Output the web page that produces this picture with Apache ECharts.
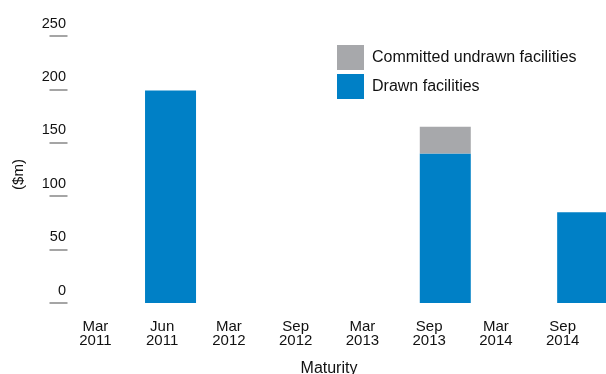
<!DOCTYPE html>
<html>
<head>
<meta charset="utf-8">
<script src="https://cdn.jsdelivr.net/npm/echarts@6/dist/echarts.min.js"></script>
<style>
html,body{margin:0;padding:0;background:#fff;}
#c{width:606px;height:374px;}
</style>
</head>
<body>
<div id="c"></div>
<script>
const categories = ['Mar\n2011','Jun\n2011','Mar\n2012','Sep\n2012','Mar\n2013','Sep\n2013','Mar\n2014','Sep\n2014'];
const drawn = [0, 199, 0, 0, 0, 140, 0, 85];
const undrawn = [0, 0, 0, 0, 0, 25, 0, 0];
const yTicks = [0, 50, 100, 150, 200, 250];

const FONT = "'Liberation Sans', Arial, sans-serif";
const TXT = '#111';
const chart = echarts.init(document.getElementById('c'));
chart.setOption({
  animation: false,
  textStyle: {fontFamily: FONT},
  legend: {
    orient: 'vertical',
    left: 337, top: 45, padding: 0,
    itemWidth: 27, itemHeight: 25, itemGap: 4,
    icon: 'rect',
    data: ['Committed undrawn facilities', 'Drawn facilities'],
    textStyle: {fontFamily: FONT, fontSize: 16, color: TXT, padding: [0,0,0,3]}
  },
  grid: [
    {left: 67.5, width: 549.5, top: 36, bottom: 71, outerBoundsMode: 'none', containLabel: false},
    {left: 62, right: 10, top: 36, bottom: 71, outerBoundsMode: 'none', containLabel: false}
  ],
  xAxis: [
    {type: 'category', gridIndex: 0, data: categories,
     axisLine: {show: false}, axisTick: {show: false}, axisLabel: {show: false}},
    {type: 'category', gridIndex: 1, data: categories,
     axisLine: {show: false}, axisTick: {show: false},
     axisLabel: {fontFamily: FONT, fontSize: 15, lineHeight: 14, color: TXT, margin: 17, interval: 0},
     name: 'Maturity', nameLocation: 'middle', nameGap: 58,
     nameTextStyle: {fontFamily: FONT, fontSize: 16, color: TXT}}
  ],
  yAxis: [
    {type: 'value', gridIndex: 0, min: yTicks[0], max: yTicks[yTicks.length-1], interval: 50,
     axisLine: {show: false},
     axisTick: {show: true, length: 18, lineStyle: {color: '#888', width: 1.5}},
     splitLine: {show: false},
     axisLabel: {fontFamily: FONT, fontSize: 14.5, color: TXT, margin: 1.5, verticalAlign: 'bottom', padding: [0,0,5,0]},
     name: '($m)', nameLocation: 'middle', nameGap: 41, nameRotate: 90,
     nameTextStyle: {fontFamily: FONT, fontSize: 15, color: TXT, padding: [0,10,0,0]}},
    {type: 'value', gridIndex: 1, min: 0, max: 250, show: false}
  ],
  series: [
    {name: 'Drawn facilities', type: 'bar', stack: 'a', xAxisIndex: 0, yAxisIndex: 0,
     data: drawn, barWidth: 51, itemStyle: {color: '#0080C6'}},
    {name: 'Committed undrawn facilities', type: 'bar', stack: 'a', xAxisIndex: 0, yAxisIndex: 0,
     data: undrawn, barWidth: 51, itemStyle: {color: '#A7A8AB'}}
  ]
});
</script>
</body>
</html>
